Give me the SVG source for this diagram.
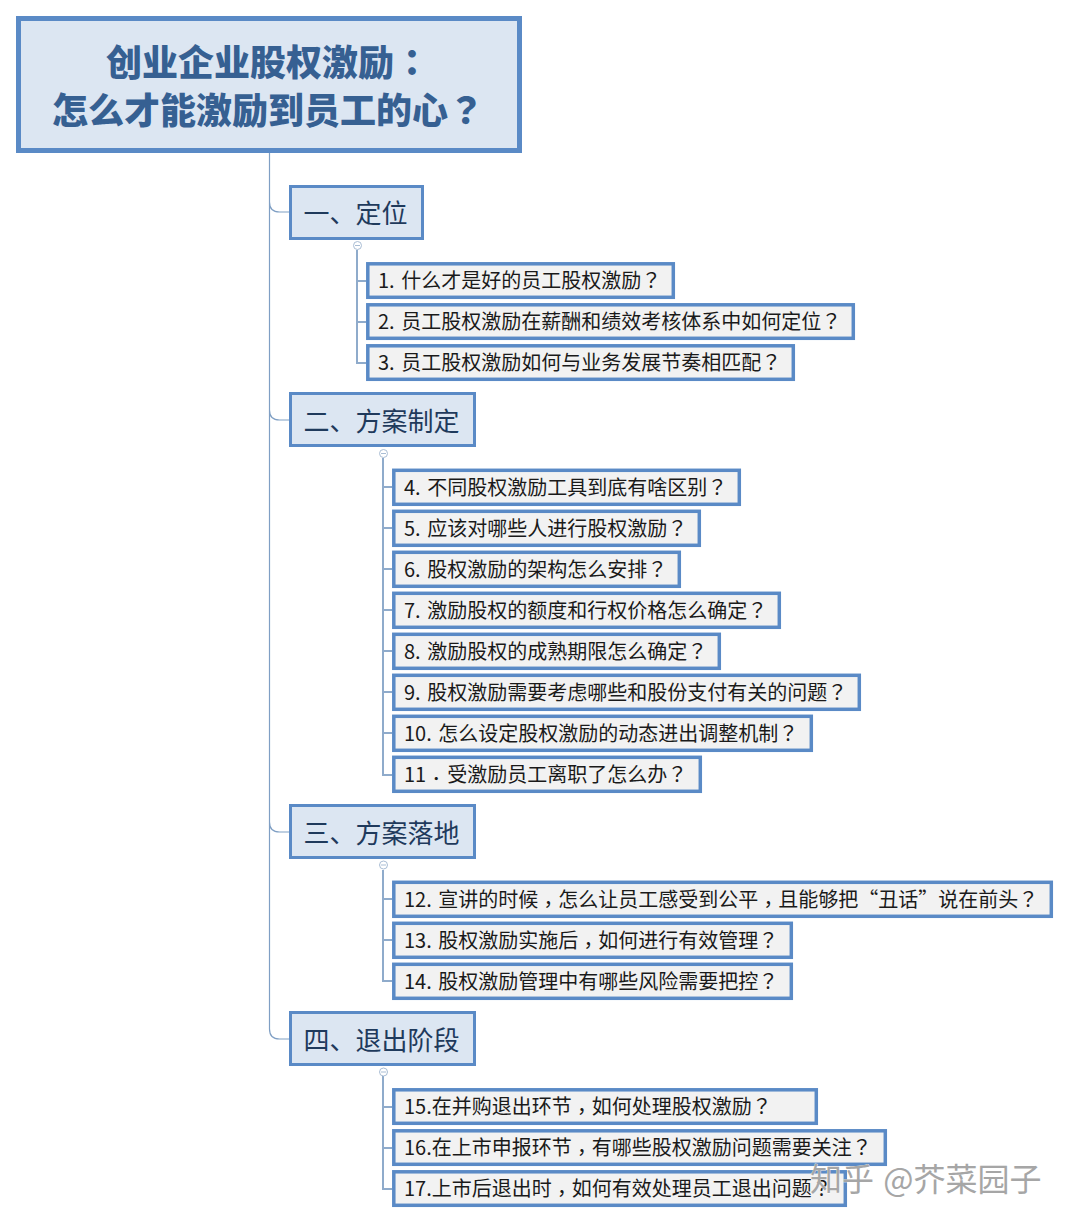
<svg xmlns="http://www.w3.org/2000/svg" width="1069" height="1223" viewBox="0 0 1069 1223">
<style>
text{font-family:"Noto Sans CJK SC","Noto Sans CJK JP",sans-serif}
.c{font-family:"Noto Sans CJK TC","Noto Sans CJK SC",sans-serif}
.k{font-family:"Noto Sans CJK TC","Noto Sans CJK SC",sans-serif;baseline-shift:-5px}
.r{fill:#dce6f2;stroke:#5a8ac6;stroke-width:5}
.l{fill:#dce6f2;stroke:#5a8ac6;stroke-width:3}
.i{fill:#f2f2f2;stroke:#5a8ac6;stroke-width:3.5}
.rt{font-size:36px;font-weight:900;fill:#366092;text-anchor:middle}
.lt{font-size:26px;fill:#1f3a5c}
.it{font-size:20px;fill:#1a1a1a;word-spacing:2px}
.w{font-size:32px;fill:#a6a6a6;stroke:#fff;stroke-width:.6;paint-order:stroke;word-spacing:2px}
.s{fill:none;stroke:#7f9fc4;stroke-width:1.2}
.t{fill:none;stroke:#8fabcb;stroke-width:2}
.m{fill:#fff;stroke:#a9bdd4;stroke-width:1}
</style>
<rect width="1069" height="1223" fill="#fff"/>
<g id="connectors">
<path class="s" d="M269.5 153V202Q269.5 212 279.500 212H289M269.500 202V410Q269.500 420 279.500 420H289M269.500 410V822Q269.500 832 279.500 832H289M269.500 822V1029Q269.500 1039 279.500 1039H289"/>
<path class="t" d="M357 250V363H366M357 281H366M357 322H366"/>
<path class="t" d="M383 458V775H392M383 487H392M383 528H392M383 569H392M383 610H392M383 651H392M383 692H392M383 733H392"/>
<path class="t" d="M383 870V981H392M383 899H392M383 940H392"/>
<path class="t" d="M383 1076V1189H392M383 1107H392M383 1148H392"/>
<circle class="m" cx="357.500" cy="245.500" r="4"/><path class="m" d="M355 245.500H360"/>
<circle class="m" cx="383.500" cy="453.500" r="4"/><path class="m" d="M381 453.500H386"/>
<circle class="m" cx="383.500" cy="865" r="4"/><path class="m" d="M381 865H386"/>
<circle class="m" cx="383.500" cy="1072" r="4"/><path class="m" d="M381 1072H386"/>
</g>
<g id="root"><rect class="r" x="18.500" y="18.500" width="501" height="132"/>
<text class="rt" x="268" y="76">创业企业股权激励<tspan class="c">：</tspan></text>
<text class="rt" x="268" y="124">怎么才能激励到员工的心<tspan class="c">？</tspan></text></g>
<g id="n1"><rect class="l" x="290.500" y="186.500" width="132" height="52"/><text class="lt" x="303.500" y="223">一、定位</text></g>
<g id="q1"><rect class="i" x="367.800" y="263.800" width="305.500" height="33.500"/><text class="it" x="378" y="288">1. 什么才是好的员工股权激励<tspan class="c">？</tspan></text></g>
<g id="q2"><rect class="i" x="367.800" y="304.800" width="485.500" height="33.500"/><text class="it" x="378" y="329">2. 员工股权激励在薪酬和绩效考核体系中如何定位<tspan class="c">？</tspan></text></g>
<g id="q3"><rect class="i" x="367.800" y="345.800" width="425.500" height="33.500"/><text class="it" x="378" y="370">3. 员工股权激励如何与业务发展节奏相匹配<tspan class="c">？</tspan></text></g>
<g id="n2"><rect class="l" x="290.500" y="393.500" width="184" height="52"/><text class="lt" x="303.500" y="431">二、方案制定</text></g>
<g id="q4"><rect class="i" x="393.800" y="470.300" width="345.500" height="34"/><text class="it" x="404" y="495">4. 不同股权激励工具到底有啥区别<tspan class="c">？</tspan></text></g>
<g id="q5"><rect class="i" x="393.800" y="511.300" width="305.500" height="34"/><text class="it" x="404" y="536">5. 应该对哪些人进行股权激励<tspan class="c">？</tspan></text></g>
<g id="q6"><rect class="i" x="393.800" y="552.300" width="285.500" height="34"/><text class="it" x="404" y="577">6. 股权激励的架构怎么安排<tspan class="c">？</tspan></text></g>
<g id="q7"><rect class="i" x="393.800" y="593.300" width="385.500" height="34"/><text class="it" x="404" y="618">7. 激励股权的额度和行权价格怎么确定<tspan class="c">？</tspan></text></g>
<g id="q8"><rect class="i" x="393.800" y="634.300" width="325.500" height="34"/><text class="it" x="404" y="659">8. 激励股权的成熟期限怎么确定<tspan class="c">？</tspan></text></g>
<g id="q9"><rect class="i" x="393.800" y="675.300" width="465.500" height="34"/><text class="it" x="404" y="700">9. 股权激励需要考虑哪些和股份支付有关的问题<tspan class="c">？</tspan></text></g>
<g id="q10"><rect class="i" x="393.800" y="716.300" width="417.500" height="34"/><text class="it" x="404" y="741">10. 怎么设定股权激励的动态进出调整机制<tspan class="c">？</tspan></text></g>
<g id="q11"><rect class="i" x="393.800" y="757.300" width="306.500" height="34"/><text class="it" x="404" y="782">11<tspan class="k">．</tspan><tspan dx="1">受激励员工离职了怎么办</tspan><tspan class="c">？</tspan></text></g>
<g id="n3"><rect class="l" x="290.500" y="805.500" width="184" height="52"/><text class="lt" x="303.500" y="843">三、方案落地</text></g>
<g id="q12"><rect class="i" x="393.800" y="882.300" width="657.500" height="34"/><text class="it" x="404" y="907">12. 宣讲的时候<tspan class="k">，</tspan>怎么让员工感受到公平<tspan class="k">，</tspan>且能够把“丑话”说在前头<tspan class="c">？</tspan></text></g>
<g id="q13"><rect class="i" x="393.800" y="923.300" width="397.500" height="34"/><text class="it" x="404" y="948">13. 股权激励实施后<tspan class="k">，</tspan>如何进行有效管理<tspan class="c">？</tspan></text></g>
<g id="q14"><rect class="i" x="393.800" y="964.300" width="397.500" height="34"/><text class="it" x="404" y="989">14. 股权激励管理中有哪些风险需要把控<tspan class="c">？</tspan></text></g>
<g id="n4"><rect class="l" x="290.500" y="1012.500" width="184" height="52"/><text class="lt" x="303.500" y="1050">四、退出阶段</text></g>
<g id="q15"><rect class="i" x="393.800" y="1089.800" width="422.500" height="33.500"/><text class="it" x="404" y="1114">15.在并购退出环节<tspan class="k">，</tspan>如何处理股权激励<tspan class="c">？</tspan></text></g>
<g id="q16"><rect class="i" x="393.800" y="1130.800" width="491.500" height="33.500"/><text class="it" x="404" y="1155">16.在上市申报环节<tspan class="k">，</tspan>有哪些股权激励问题需要关注<tspan class="c">？</tspan></text></g>
<g id="q17"><rect class="i" x="393.800" y="1171.800" width="451.500" height="33.500"/><text class="it" x="404" y="1196">17.上市后退出时<tspan class="k">，</tspan>如何有效处理员工退出问题<tspan class="c">？</tspan></text></g>
<g id="watermark"><text class="w" x="810" y="1191">知乎 @芥菜园子</text></g>
</svg>
